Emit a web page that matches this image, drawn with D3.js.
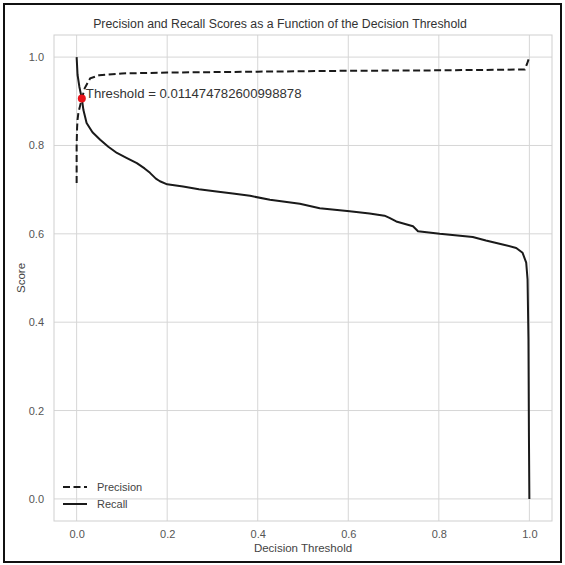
<!DOCTYPE html>
<html>
<head>
<meta charset="utf-8">
<script src="https://cdn.jsdelivr.net/npm/d3@7/dist/d3.min.js"></script>
<style>
  html, body { margin: 0; padding: 0; background: #fff; }
  svg { display: block; }
  text { font-family: "Liberation Sans", Arial, sans-serif; }
</style>
</head>
<body>
<svg id="chart" width="565" height="565"></svg>
<script>
// ---- data ----
const precisionThreshold = [0.0, 0.0, 0.001, 0.002, 0.004, 0.0115, 0.018, 0.03, 0.05, 0.1, 0.2, 0.4, 0.6, 0.8, 0.9, 0.99, 0.995, 1.0];
const precisionValues    = [0.715, 0.80, 0.84, 0.858, 0.875, 0.906, 0.93, 0.952, 0.959, 0.963, 0.965, 0.967, 0.969, 0.970, 0.971, 0.972, 0.985, 1.0];

const recallThreshold = [0.0, 0.002, 0.006, 0.0115, 0.015, 0.022, 0.035, 0.052, 0.07, 0.089, 0.11, 0.133, 0.15, 0.162, 0.175, 0.184, 0.2, 0.235, 0.27, 0.309, 0.345, 0.383, 0.427, 0.493, 0.537, 0.603, 0.647, 0.68, 0.691, 0.706, 0.743, 0.754, 0.802, 0.875, 0.904, 0.941, 0.971, 0.985, 0.993, 0.996, 0.998, 0.999, 1.0];
const recallValues    = [1.0, 0.96, 0.933, 0.906, 0.88, 0.851, 0.83, 0.813, 0.797, 0.783, 0.772, 0.76, 0.748, 0.738, 0.725, 0.719, 0.712, 0.707, 0.701, 0.696, 0.691, 0.686, 0.677, 0.668, 0.658, 0.651, 0.646, 0.641, 0.636, 0.628, 0.617, 0.606, 0.600, 0.593, 0.585, 0.576, 0.568, 0.557, 0.535, 0.497, 0.36, 0.15, 0.0];

const bestThreshold = 0.011474782600998878;
const bestScore = 0.906;

const xTicks = [0.0, 0.2, 0.4, 0.6, 0.8, 1.0];
const yTicks = [0.0, 0.2, 0.4, 0.6, 0.8, 1.0];
const seriesNames = ["Precision", "Recall"];
const titleText = "Precision and Recall Scores as a Function of the Decision Threshold";
const xLabel = "Decision Threshold";
const yLabel = "Score";

// ---- layout ----
const svg = d3.select("#chart");
const pLeft = 54, pRight = 552, pTop = 35, pBottom = 521;

const x = d3.scaleLinear().domain([-0.05, 1.05]).range([pLeft, pRight]);
const y = d3.scaleLinear().domain([-0.05, 1.05]).range([pBottom, pTop]);

// outer black frame
svg.append("rect").attr("x", 4).attr("y", 4).attr("width", 557).attr("height", 558)
  .attr("fill", "none").attr("stroke", "#111").attr("stroke-width", 2);

// grid
const grid = svg.append("g");
grid.selectAll(".gx").data(xTicks).enter().append("line")
  .attr("x1", d => x(d)).attr("x2", d => x(d)).attr("y1", pTop).attr("y2", pBottom)
  .attr("stroke", "#d6d6d6").attr("stroke-width", 1);
grid.selectAll(".gy").data(yTicks).enter().append("line")
  .attr("y1", d => y(d)).attr("y2", d => y(d)).attr("x1", pLeft).attr("x2", pRight)
  .attr("stroke", "#d6d6d6").attr("stroke-width", 1);

// spines
svg.append("rect").attr("x", pLeft).attr("y", pTop).attr("width", pRight - pLeft).attr("height", pBottom - pTop)
  .attr("fill", "none").attr("stroke", "#cfcfcf").attr("stroke-width", 1);

// axes (tick labels only)
const xAxis = d3.axisBottom(x).tickValues(xTicks).tickFormat(d3.format(".1f")).tickSize(0).tickPadding(9);
const gx = svg.append("g").attr("transform", `translate(0,${pBottom})`).call(xAxis);
gx.select(".domain").remove();
gx.selectAll("text").attr("font-size", 11).attr("fill", "#555").style("font-family", "Liberation Sans, Arial, sans-serif");

const yAxis = d3.axisLeft(y).tickValues(yTicks).tickFormat(d3.format(".1f")).tickSize(0).tickPadding(10);
const gy = svg.append("g").attr("transform", `translate(${pLeft},0)`).call(yAxis);
gy.select(".domain").remove();
gy.selectAll("text").attr("font-size", 11).attr("fill", "#555").style("font-family", "Liberation Sans, Arial, sans-serif");

// lines
const precisionData = precisionThreshold.map((t, i) => [t, precisionValues[i]]);
const recallData = recallThreshold.map((t, i) => [t, recallValues[i]]);
const line = d3.line().x(d => x(d[0])).y(d => y(d[1]));

svg.append("path").datum(precisionData).attr("d", line)
  .attr("fill", "none").attr("stroke", "#1a1a1a").attr("stroke-width", 2)
  .attr("stroke-dasharray", "7,3.5");
svg.append("path").datum(recallData).attr("d", line)
  .attr("fill", "none").attr("stroke", "#1a1a1a").attr("stroke-width", 2)
  .attr("stroke-linejoin", "round");

// marker + annotation
svg.append("circle").attr("cx", x(bestThreshold)).attr("cy", y(bestScore)).attr("r", 4)
  .attr("fill", "#e8141a");
svg.append("text").attr("x", x(bestThreshold) + 4).attr("y", y(bestScore) - 1)
  .attr("font-size", 13.2).attr("fill", "#333")
  .text("Threshold = " + bestThreshold);

// title & labels
svg.append("text").attr("x", 280).attr("y", 28).attr("text-anchor", "middle")
  .attr("font-size", 12.3).attr("fill", "#333").text(titleText);
svg.append("text").attr("x", (pLeft + pRight) / 2).attr("y", 552).attr("text-anchor", "middle")
  .attr("font-size", 11.5).attr("fill", "#444").text(xLabel);
svg.append("text").attr("transform", `translate(25,${(pTop + pBottom) / 2}) rotate(-90)`)
  .attr("text-anchor", "middle").attr("font-size", 11.5).attr("fill", "#444").text(yLabel);

// legend
const legend = svg.append("g");
const legendY = [487, 504];
seriesNames.forEach((name, i) => {
  legend.append("line").attr("x1", 63).attr("x2", 87).attr("y1", legendY[i]).attr("y2", legendY[i])
    .attr("stroke", "#1a1a1a").attr("stroke-width", 2)
    .attr("stroke-dasharray", i === 0 ? "7,3.5" : null);
  legend.append("text").attr("x", 97).attr("y", legendY[i] + 4)
    .attr("font-size", 11).attr("fill", "#444").text(name);
});
</script>
</body>
</html>
